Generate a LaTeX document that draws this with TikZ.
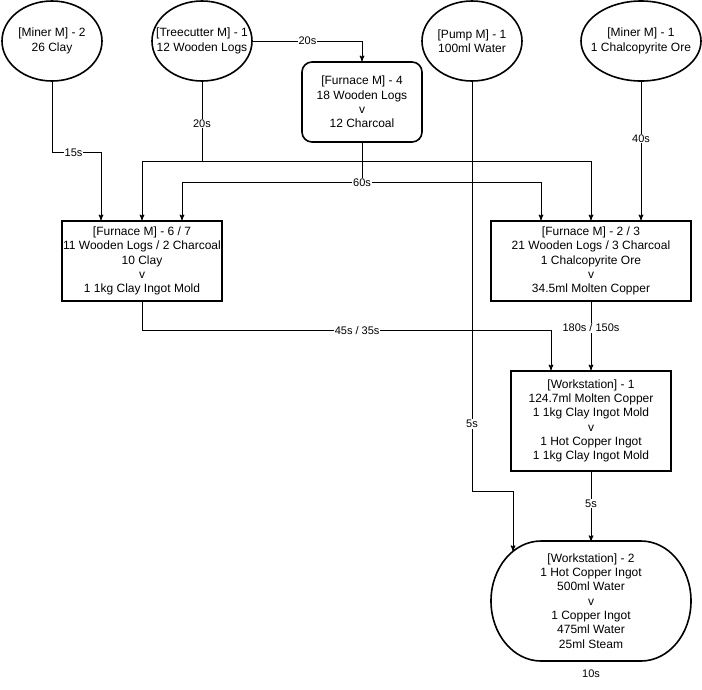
\documentclass[tikz,border=0pt]{standalone}
\usepackage{fontspec}
\setmainfont{Liberation Sans}
\usetikzlibrary{arrows,shapes.geometric}
\usetikzlibrary{positioning}
\tikzset{
    machine/.style = {draw, ellipse, line width=1.6pt,
                 minimum width=100pt, minimum height=80pt, inner sep=0pt},
    recipe/.style = {draw, line width=1.6pt, inner sep=0pt,
                 minimum width=160pt, minimum height=80pt, align=center},
    txt/.style = {align=center, inner sep=0pt},
    time/.style = {fill=white, inner sep=1pt, font=\fontsize{11}{13}\selectfont},
}

\begin{document}
\begin{tikzpicture}[->,>=stealth', x=1pt, y=1pt, line width=1pt,
    font=\fontsize{12}{14.3}\selectfont]
 \useasboundingbox (0,0) rectangle (702,-689);
 % machines
 \node (mc2)  [machine, label={[txt]center:{[Miner M] - 2\\26 Clay}}] at (52,-41) {};
 \node (tc)   [machine, label={[txt]center:{[Treecutter M] - 1\\12 Wooden Logs}}] at (202,-41) {};
 \node (pump) [machine, label={[txt]center:{[Pump M] - 1\\100ml Water}}] at (472,-41) {};
 \node (mc1)  [machine, minimum width=120pt, label={[txt]center:{[Miner M] - 1\\1 Chalcopyrite Ore}}] at (641,-41) {};

 % recipes
 \node (f4)  [recipe, rounded corners=10pt, minimum width=120pt] at (362,-102) {[Furnace M] - 4\\18 Wooden Logs\\v\\12 Charcoal};
 \node (f67) [recipe] at (142,-261) {[Furnace M] - 6 / 7\\11 Wooden Logs / 2 Charcoal\\10 Clay\\v\\1 1kg Clay Ingot Mold};
 \node (f23) [recipe, minimum width=200pt] at (591,-261) {[Furnace M] - 2 / 3\\21 Wooden Logs / 3 Charcoal\\1 Chalcopyrite Ore\\v\\34.5ml Molten Copper};
 \node (ws1) [recipe, minimum height=100pt] at (591,-421) {[Workstation] - 1\\124.7ml Molten Copper\\1 1kg Clay Ingot Mold\\v\\1 Hot Copper Ingot\\1 1kg Clay Ingot Mold};
 \node (ws2) [recipe, draw=none, outer sep=0pt, minimum width=200pt, minimum height=120pt,
     label={[time, fill=none, anchor=center, yshift=-13pt]below:10s}] at (591,-601) {[Workstation] - 2\\1 Hot Copper Ingot\\500ml Water\\v\\1 Copper Ingot\\475ml Water\\25ml Steam};
 \draw[-, line width=1.6pt] ([xshift=50pt]ws2.north west) -- ([xshift=-50pt]ws2.north east)
     arc[start angle=90, end angle=-90, x radius=50pt, y radius=60pt]
     -- ([xshift=50pt]ws2.south west)
     arc[start angle=270, end angle=90, x radius=50pt, y radius=60pt] -- cycle;
 \coordinate (ws2in) at ([xshift=22pt, yshift=-10pt]ws2.north west);

 % connections
 \draw (tc.east) -| (f4.north) node[time, pos=0.25] {20s};
 \draw (mc2.south) -- ++(0,-71) -| ([xshift=-41pt]f67.north) node[time, pos=0.22] {15s};
 \draw (tc.south) -- ++(0,-80) -| (f67.north);
 \draw (tc.south) -- ++(0,-80) node[time, pos=0.52] {20s} -| (f23.north);
 \draw (f4.south) -- ++(0,-40) -| ([xshift=40pt]f67.north);
 \draw (f4.south) -- ++(0,-40) node[time, at end] {60s} -| ([xshift=-50pt]f23.north);
 \draw (mc1.south) -- ([xshift=50pt]f23.north) node[time, pos=0.41] {40s};
 \draw (pump.south) -- ++(0,-410) node[time, pos=0.834] {5s} -| (ws2in);
 \draw (f67.south) -- ++(0,-29) -| ([xshift=-40pt]ws1.north) node[time, pos=0.263] {45s / 35s};
 \draw (f23.south) -- (ws1.north) node[time, pos=0.38] {180s / 150s};
 \draw (ws1.south) -- (ws2.north) node[time, pos=0.46] {5s};
\end{tikzpicture}
\end{document}
